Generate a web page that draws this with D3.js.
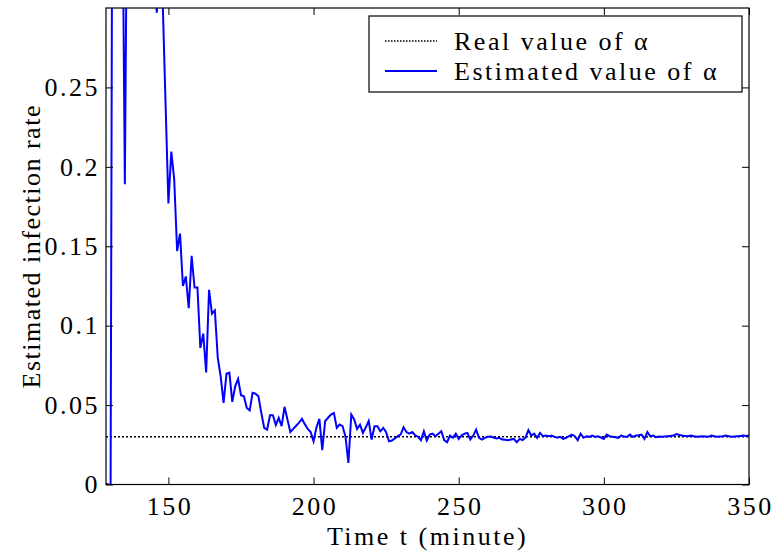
<!DOCTYPE html>
<html lang='en'>
	<head>
		<title>Estimated infection rate</title>
		<meta charset=utf-8>
		<script src="https://cdn.jsdelivr.net/npm/d3@7"></script>
		<style>
			body {
				margin: 0;
				background-color: white;
			}
			text {
				font-family: "Liberation Serif", "Times New Roman", serif;
				fill: black;
			}
			.lbl {
				font-size: 26px;
				letter-spacing: 2.5px;
			}
		</style>
	</head>
	<body>
		<svg id='chart' width="782" height="551"></svg>
	</body>

	<script>
		// data
		const startMinute = 129;
		const realAlpha = 0.03;
		const estimated = [
			0.001, -0.06, 0.62, 0.55, 0.48, 0.41, 0.189, 0.44, 0.52, 0.47,
			0.40, 0.43, 0.37, 0.39, 0.35, 0.34, 0.32, 0.297, 0.33, 0.306,
			0.241, 0.177, 0.2096, 0.192, 0.147, 0.158, 0.125, 0.131, 0.111, 0.144,
			0.124, 0.124, 0.086, 0.095, 0.0706, 0.1226, 0.1075, 0.1096, 0.0797, 0.068,
			0.0514, 0.0698, 0.0704, 0.052, 0.0618, 0.0665, 0.0562, 0.0555, 0.0482, 0.0467,
			0.0577, 0.0572, 0.0555, 0.0451, 0.0357, 0.0346, 0.0436, 0.0436, 0.0375, 0.042,
			0.0367, 0.0489, 0.041, 0.033, 0.035, 0.037, 0.039, 0.0413, 0.038, 0.035,
			0.033, 0.0272, 0.036, 0.0413, 0.0216, 0.040, 0.042, 0.044, 0.045, 0.0357,
			0.0377, 0.0367, 0.030, 0.0136, 0.044, 0.041, 0.035, 0.0377, 0.0325, 0.036,
			0.040, 0.0283, 0.0367, 0.0367, 0.0335, 0.0357, 0.033, 0.0272, 0.0277, 0.029,
			0.0304, 0.0314, 0.036, 0.033, 0.032, 0.033, 0.031, 0.030, 0.0279, 0.0335,
			0.0277, 0.0314, 0.032, 0.0304, 0.032, 0.0335, 0.028, 0.0266, 0.0308, 0.0294,
			0.032, 0.0287, 0.031, 0.032, 0.0325, 0.0283, 0.0308, 0.0346, 0.0294, 0.0283,
			0.0294, 0.030, 0.0302, 0.0296, 0.029, 0.0294, 0.0283, 0.0281, 0.0279, 0.0283,
			0.0287, 0.0266, 0.0287, 0.028, 0.0295, 0.0342, 0.0308, 0.032, 0.0294, 0.0325,
			0.0304, 0.0308, 0.0304, 0.0308, 0.030, 0.0294, 0.030, 0.0287, 0.0294, 0.0305,
			0.0314, 0.0304, 0.0279, 0.032, 0.0294, 0.0304, 0.030, 0.0308, 0.030, 0.0304,
			0.0296, 0.0287, 0.0314, 0.0304, 0.030, 0.0298, 0.0294, 0.0308, 0.0302, 0.030,
			0.0314, 0.030, 0.0308, 0.031, 0.0314, 0.0287, 0.033, 0.0304, 0.0308, 0.0298,
			0.0302, 0.030, 0.0302, 0.0304, 0.0306, 0.0308, 0.0318, 0.0312, 0.0308, 0.0306,
			0.0304, 0.0308, 0.0304, 0.030, 0.0302, 0.0304, 0.0302, 0.030, 0.0308, 0.0304,
			0.030, 0.0302, 0.0304, 0.0308, 0.0304, 0.030, 0.0302, 0.0304, 0.0306, 0.0308,
			0.0306, 0.0308
		];
		const xTicks = [150, 200, 250, 300, 350];
		const yTicks = [0, 0.05, 0.1, 0.15, 0.2, 0.25];
		const yTickLabels = ['0', '0.05', '0.1', '0.15', '0.2', '0.25'];
		const legendLabels = ['Real value of \u03B1', 'Estimated value of \u03B1'];

		// plot box
		const box = {left: 106, right: 749, top: 8, bottom: 484.5};
		const tickLen = 7;

		const svg = d3.select('#chart');

		const x = d3.scaleLinear().domain([128.5, 350]).range([box.left, box.right]);
		const y = d3.scaleLinear().domain([0, 0.3]).range([box.bottom, box.top]);

		// clip so the spikes get cut at the box
		svg.append('clipPath').attr('id', 'clip')
			.append('rect').attr('x', box.left).attr('y', box.top)
			.attr('width', box.right - box.left).attr('height', box.bottom - box.top);

		const pts = estimated.map((v, i) => [startMinute + i, v]);

		// real value (dotted)
		svg.append('line')
			.attr('x1', box.left).attr('x2', box.right)
			.attr('y1', y(realAlpha)).attr('y2', y(realAlpha))
			.attr('stroke', 'black').attr('stroke-width', 1.5)
			.attr('stroke-dasharray', '2,2');

		// estimated value
		const line = d3.line().x(d => x(d[0])).y(d => y(d[1]));
		svg.append('path').datum(pts)
			.attr('clip-path', 'url(#clip)')
			.attr('d', line)
			.attr('fill', 'none')
			.attr('stroke', '#0000ff')
			.attr('stroke-width', 2)
			.attr('stroke-linejoin', 'miter');

		// axes, ticks on all four sides pointing inward
		const gx = svg.append('g').attr('transform', 'translate(0,' + box.bottom + ')')
			.call(d3.axisBottom(x).tickValues(xTicks).tickSizeInner(-tickLen).tickSizeOuter(0).tickPadding(12));
		const gy = svg.append('g').attr('transform', 'translate(' + box.left + ',0)')
			.call(d3.axisLeft(y).tickValues(yTicks).tickFormat((d, i) => yTickLabels[i]).tickSizeInner(-tickLen).tickSizeOuter(0).tickPadding(8));
		const gxt = svg.append('g').attr('transform', 'translate(0,' + box.top + ')')
			.call(d3.axisTop(x).tickValues(xTicks).tickSizeInner(-tickLen).tickSizeOuter(0).tickFormat(''));
		const gyr = svg.append('g').attr('transform', 'translate(' + box.right + ',0)')
			.call(d3.axisRight(y).tickValues(yTicks).tickSizeInner(-tickLen).tickSizeOuter(0).tickFormat(''));

		[gx, gy, gxt, gyr].forEach(g => {
			g.selectAll('.domain').remove();
			g.selectAll('line').attr('stroke', 'black');
			g.selectAll('text').attr('class', 'lbl').attr('font-size', null).attr('font-family', null);
		});
		gx.selectAll('text').attr('dy', '0.71em').attr('dx', 1);
		gy.selectAll('text').attr('dx', 2);

		// box frame
		svg.append('rect')
			.attr('x', box.left).attr('y', box.top)
			.attr('width', box.right - box.left).attr('height', box.bottom - box.top)
			.attr('fill', 'none').attr('stroke', 'black').attr('stroke-width', 1.2);

		// axis titles
		svg.append('text').attr('class', 'lbl')
			.attr('x', (box.left + box.right) / 2).attr('y', 545)
			.attr('text-anchor', 'middle').text('Time t (minute)');
		svg.append('text').attr('class', 'lbl')
			.attr('transform', 'translate(40,' + ((box.top + box.bottom) / 2) + ') rotate(-90)')
			.attr('text-anchor', 'middle').style('letter-spacing', '1.5px')
			.text('Estimated infection rate');

		// legend
		const leg = svg.append('g');
		leg.append('rect').attr('x', 369).attr('y', 16).attr('width', 373).attr('height', 76)
			.attr('fill', 'white').attr('stroke', 'black').attr('stroke-width', 1.2);
		const legRows = [
			{y: 41, dash: '1.5,1.5', color: 'black', width: 1.5},
			{y: 71, dash: null, color: '#0000ff', width: 2}
		];
		legRows.forEach((r, i) => {
			leg.append('line').attr('x1', 385).attr('x2', 437).attr('y1', r.y).attr('y2', r.y)
				.attr('stroke', r.color).attr('stroke-width', r.width)
				.attr('stroke-dasharray', r.dash);
			leg.append('text').attr('class', 'lbl')
				.attr('x', 454).attr('y', r.y + 9).text(legendLabels[i]);
		});
	</script>
</html>
